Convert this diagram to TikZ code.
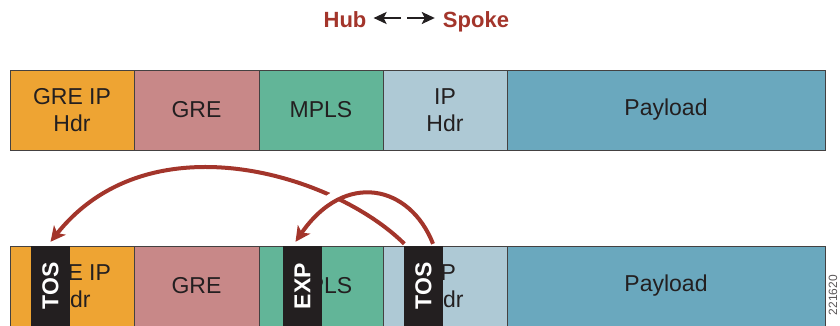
\documentclass[tikz,border=0pt]{standalone}
\usepackage{fontspec}
\setmainfont{Liberation Sans}
\usetikzlibrary{arrows.meta, positioning, calc}

\definecolor{hdrorange}{HTML}{EEA433}
\definecolor{grepink}{HTML}{C88888}
\definecolor{mplsgreen}{HTML}{62B598}
\definecolor{iplight}{HTML}{AEC9D5}
\definecolor{paysteel}{HTML}{6AA8BE}
\definecolor{markred}{HTML}{A3352B}
\definecolor{inkdark}{HTML}{231F20}

\tikzset{
  field/.style={draw=inkdark!85, line width=0.8pt, minimum height=80pt, inner sep=0pt,
    align=center, text=inkdark, font=\fontsize{23}{27}\selectfont},
  tagbar/.style={fill=inkdark, minimum width=39pt, minimum height=80pt, inner sep=0pt},
  tagtext/.style={text=white, rotate=90, inner sep=0pt, font=\fontsize{23}{23}\selectfont\bfseries},
  headtext/.style={text=markred, anchor=base, inner sep=0pt, font=\fontsize{22}{22}\selectfont\bfseries},
  dirarrow/.style={-{Stealth[length=13pt,width=12pt,inset=3pt]}, line width=2.2pt, inkdark},
  remark/.style={-{Stealth[length=15pt,width=15pt,inset=4pt]}, draw=markred, line width=4pt}
}

\begin{document}
\begin{tikzpicture}[x=1pt,y=1pt]
\useasboundingbox (0,0) rectangle (840,325);

% Title
\node[headtext] (hub) at (345,298) {Hub};
\node[headtext] (spoke) at (476,298) {Spoke};
\coordinate (gapl) at (401,307);
\coordinate (gapr) at (407,307);
\draw[dirarrow, shorten >=7pt] (gapl) -- (hub.east |- gapl);
\draw[dirarrow, shorten >=8pt] (gapr) -- (spoke.west |- gapr);

% Packet rows (a = top, b = bottom)
\foreach \r/\yy in {a/215, b/39} {
  \foreach \x/\w/\c/\t/\n in {72/124/hdrorange/{GRE IP\\Hdr}/greip,
                              196.5/125/grepink/{GRE}/gre,
                              321/124/mplsgreen/{MPLS}/mpls,
                              445/124/iplight/{IP\\Hdr}/iphdr,
                              666/318/paysteel/{Payload}/payload} {
    \node[field, fill=\c, minimum width=\w pt] (\n\r) at (\x,\yy) {\t};
  }
}

% Marking fields in the lower packet
\node[tagbar] (tos1) at (50.5,39) {};
\node[tagtext] (tos1txt) at (tos1) {TOS};
\node[tagbar] (exp) at (302.5,39) {};
\node[tagtext] (exptxt) at (exp) {EXP};
\node[tagbar] (tos2) at (423.5,39) {};
\node[tagtext] (tos2txt) at (tos2) {TOS};

% Copy arrows
\draw[remark] ($(tos2.north west)+(0.5,2)$) .. controls (335,150) and (150,208) .. ($(tos1.north)+(0,4)$);
\draw[white, line width=10pt, shorten <=22pt, shorten >=30pt]
  ($(tos2.north)+(9.5,2)$) .. controls (410,140) and (345,155) .. ($(exp.north)+(-7,4)$);
\draw[remark] ($(tos2.north)+(9.5,2)$) .. controls (410,140) and (345,155) .. ($(exp.north)+(-7,4)$);

% Figure number
\node[rotate=90, text=inkdark!75, font=\fontsize{12}{12}\selectfont] (fignum) at (833,30) {221620};
\end{tikzpicture}
\end{document}
